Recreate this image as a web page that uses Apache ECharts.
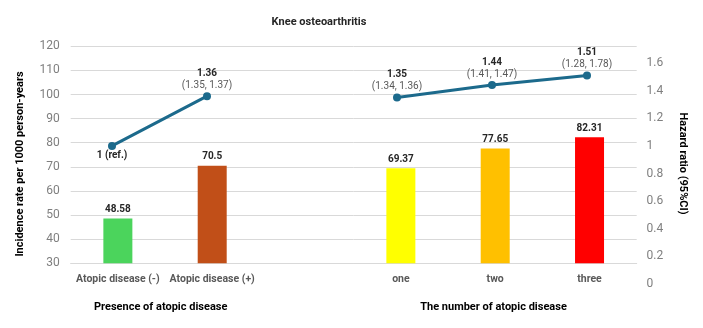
<!DOCTYPE html>
<html>
<head>
<meta charset="utf-8">
<script src="https://cdn.jsdelivr.net/npm/echarts@6/dist/echarts.min.js"></script>
<style>html,body{margin:0;padding:0;background:#fff}#c{width:703px;height:328px}</style>
</head>
<body>
<div id="c"></div>
<script>
var categories = ['Atopic disease (-)', 'Atopic disease (+)', '', 'one', 'two', 'three'];
var incidence = [48.58, 70.5, null, 69.37, 77.65, 82.31];
var barColors = ['#4BD45C', '#C14F18', '#ffffff', '#FFFF00', '#FFC000', '#FF0000'];
var hazard = [1, 1.36, null, 1.35, 1.44, 1.51];
var hazardCI = ['', '1.35, 1.37', '', '1.34, 1.36', '1.41, 1.47', '1.28, 1.78'];
var leftTicks = {min: 30, max: 120, interval: 10};
var rightTicks = {min: 0, max: 1.6, interval: 0.2};

var FONT = 'Roboto, "Liberation Sans", sans-serif';

var barData = incidence.map(function (v, i) {
  return {value: v, itemStyle: {color: barColors[i]}};
});
var lineData = hazard.map(function (v, i) {
  if (v === null) return null;
  if (hazardCI[i] === '') {
    return {value: v, label: {position: 'bottom', distance: 1, formatter: v + ' (ref.)',
      fontWeight: 'bold', fontSize: 10, color: '#262626', fontFamily: FONT}};
  }
  return {value: v, label: {position: 'top', distance: 1,
    formatter: '{v|' + v.toFixed(2) + '}\n{c|(' + hazardCI[i] + ')}'}};
});

var chart = echarts.init(document.getElementById('c'), null, {renderer: 'canvas'});
chart.setOption({
  animation: false,
  backgroundColor: '#ffffff',
  title: {
    text: 'Knee osteoarthritis', left: 314, top: 12, textAlign: 'center',
    textStyle: {fontSize: 11, fontWeight: 'bold', color: '#262626', fontFamily: FONT}
  },
  grid: [
    {left: 70.7, right: 66.3, top: 46.3, bottom: 64.7},
    {left: 64.5, right: 68.5, top: 63, bottom: 44}
  ],
  xAxis: [
    {type: 'category', gridIndex: 0, data: categories,
      axisLine: {show: true, lineStyle: {color: '#d9d9d9'}}, axisTick: {show: false},
      axisLabel: {fontSize: 10.5, fontWeight: 'bold', color: '#595959', fontFamily: FONT, margin: 11, interval: 0}},
    {type: 'category', gridIndex: 1, data: categories, show: false}
  ],
  yAxis: [
    {type: 'value', gridIndex: 0, min: leftTicks.min, max: leftTicks.max, interval: leftTicks.interval,
      axisLine: {show: false}, axisTick: {show: false},
      splitLine: {lineStyle: {color: '#d9d9d9', width: 1}},
      axisLabel: {fontSize: 12, color: '#7f7f7f', fontFamily: FONT, margin: 11}},
    {type: 'value', gridIndex: 1, position: 'right', min: rightTicks.min, max: rightTicks.max, interval: rightTicks.interval,
      axisLine: {show: false}, axisTick: {show: false}, splitLine: {show: false},
      axisLabel: {fontSize: 12, color: '#7f7f7f', fontFamily: FONT, margin: 12,
        formatter: function (v) { return String(Math.round(v * 10) / 10); }}}
  ],
  graphic: [
    {type: 'text', rotation: Math.PI / 2, x: 20, y: 164,
      style: {text: 'Incidence rate per 1000 person-years', font: 'bold 11px ' + FONT, fill: '#000000',
        textAlign: 'center', textVerticalAlign: 'middle'}},
    {type: 'text', rotation: -Math.PI / 2, x: 683, y: 163.5,
      style: {text: 'Hazard ratio (95%CI)', font: 'bold 11px ' + FONT, fill: '#000000',
        textAlign: 'center', textVerticalAlign: 'middle'}},
    {type: 'text', x: 160.7, y: 307,
      style: {text: 'Presence of atopic disease', font: 'bold 11px ' + FONT, fill: '#000000',
        textAlign: 'center', textVerticalAlign: 'middle'}},
    {type: 'text', x: 493.5, y: 307,
      style: {text: 'The number of atopic disease', font: 'bold 11px ' + FONT, fill: '#000000',
        textAlign: 'center', textVerticalAlign: 'middle'}}
  ],
  series: [
    {type: 'bar', xAxisIndex: 0, yAxisIndex: 0, data: barData, barWidth: 29,
      label: {show: true, position: 'top', distance: 4, fontSize: 10, fontWeight: 'bold', color: '#262626', fontFamily: FONT}},
    {type: 'line', xAxisIndex: 1, yAxisIndex: 1, data: lineData, connectNulls: false,
      symbol: 'circle', symbolSize: 8,
      lineStyle: {color: '#1C6A8C', width: 3}, itemStyle: {color: '#1C6A8C'},
      label: {show: true, fontFamily: FONT,
        rich: {
          v: {fontSize: 10, fontWeight: 'bold', color: '#262626', lineHeight: 12, fontFamily: FONT},
          c: {fontSize: 10, color: '#595959', lineHeight: 12, fontFamily: FONT}
        }}}
  ]
});
</script>
</body>
</html>
